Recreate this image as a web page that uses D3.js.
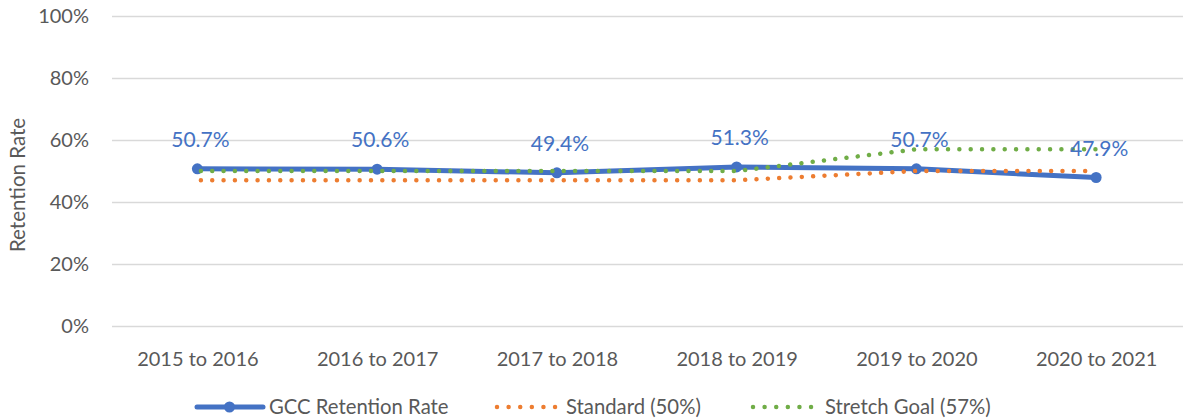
<!DOCTYPE html>
<html>
<head>
<meta charset="utf-8">
<script src="https://cdn.jsdelivr.net/npm/d3@7"></script>
<style>
  html, body { margin: 0; padding: 0; background: #fff; }
  svg { display: block; font-family: Lato, "Open Sans", sans-serif; }
</style>
</head>
<body>
<svg id="chart" width="1183" height="419"></svg>
<script>
const categories = ["2015 to 2016", "2016 to 2017", "2017 to 2018", "2018 to 2019", "2019 to 2020", "2020 to 2021"];
const gccRetention = [50.7, 50.6, 49.4, 51.3, 50.7, 47.9];
const standard = [47, 47, 47, 47, 50, 50];
const stretchGoal = [50, 50, 50, 50, 57, 57];
const yTicks = [0, 20, 40, 60, 80, 100];
const seriesNames = ["GCC Retention Rate", "Standard (50%)", "Stretch Goal (57%)"];

const blue = "#4472C4", orange = "#ED7D31", green = "#70AD47";
const textColor = "#595959", gridColor = "#D9D9D9";

const svg = d3.select("#chart");
const gridLeft = 112, gridRight = 1183;

const x = d3.scalePoint().domain(categories).range([107.5, 1186]).padding(0.5);
const y = d3.scaleLinear().domain([0, 100]).range([326, 16]);

// Y axis with gridlines
const yAxis = d3.axisLeft(y)
  .tickValues(yTicks)
  .tickFormat(d => d + "%")
  .tickSize(-(gridRight - gridLeft))
  .tickPadding(23);
const yg = svg.append("g").attr("transform", `translate(${gridLeft},0)`).call(yAxis);
yg.select(".domain").remove();
yg.selectAll(".tick line").attr("stroke", gridColor).attr("stroke-width", 1.5);
yg.selectAll(".tick text").attr("fill", textColor).attr("font-size", 20).attr("font-family", "Lato");

// X axis
const xAxis = d3.axisBottom(x).tickSize(0).tickPadding(25.5);
const xg = svg.append("g").attr("transform", `translate(0,${y(0)})`).call(xAxis);
xg.select(".domain").remove();
xg.selectAll(".tick text").attr("fill", textColor).attr("font-size", 20).attr("font-family", "Lato");

// Y title
svg.append("text")
  .attr("transform", "translate(25,185) rotate(-90)")
  .attr("text-anchor", "middle")
  .attr("fill", textColor)
  .attr("font-size", 20.5)
  .text("Retention Rate");

const line = vals => d3.line().x((d, i) => x(categories[i])).y(d => y(d))(vals);

// GCC line
svg.append("path")
  .attr("d", line(gccRetention))
  .attr("fill", "none")
  .attr("stroke", blue)
  .attr("stroke-width", 5)
  .attr("stroke-linejoin", "round")
  .attr("stroke-linecap", "round");
svg.selectAll(".gcc-pt").data(gccRetention).enter().append("circle")
  .attr("cx", (d, i) => x(categories[i]))
  .attr("cy", d => y(d))
  .attr("r", 5.5)
  .attr("fill", blue);

// Dotted series
function dotted(vals, color) {
  svg.append("path")
    .attr("d", line(vals))
    .attr("fill", "none")
    .attr("stroke", color)
    .attr("stroke-width", 4.5)
    .attr("stroke-linecap", "round")
    .attr("stroke-dasharray", "0.01 11.33")
    .attr("stroke-dashoffset", -3.5);
}
dotted(standard, orange);
dotted(stretchGoal, green);

// Data labels
svg.selectAll(".lbl").data(gccRetention).enter().append("text")
  .attr("x", (d, i) => x(categories[i]) + 3)
  .attr("y", d => y(d) - 22)
  .attr("text-anchor", "middle")
  .attr("fill", blue)
  .attr("font-size", 21)
  .text(d => d.toFixed(1) + "%");

// Legend
const ly = 407;
const lg = svg.append("g");
lg.append("line").attr("x1", 197).attr("x2", 263).attr("y1", ly).attr("y2", ly)
  .attr("stroke", blue).attr("stroke-width", 5).attr("stroke-linecap", "round");
lg.append("circle").attr("cx", 229.5).attr("cy", ly).attr("r", 5.5).attr("fill", blue);
lg.append("text").attr("x", 269).attr("y", ly).attr("dy", "0.35em").attr("fill", textColor)
  .attr("font-size", 20.3).text(seriesNames[0]);

function legendDots(x0, x1, color) {
  lg.append("line").attr("x1", x0).attr("x2", x1).attr("y1", ly).attr("y2", ly)
    .attr("stroke", color).attr("stroke-width", 4.5).attr("stroke-linecap", "round")
    .attr("stroke-dasharray", "0.01 11.6");
}
legendDots(497, 556, orange);
lg.append("text").attr("x", 566).attr("y", ly).attr("dy", "0.35em").attr("fill", textColor)
  .attr("font-size", 20.3).text(seriesNames[1]);
legendDots(753, 812, green);
lg.append("text").attr("x", 825).attr("y", ly).attr("dy", "0.35em").attr("fill", textColor)
  .attr("font-size", 20.3).text(seriesNames[2]);
</script>
</body>
</html>
